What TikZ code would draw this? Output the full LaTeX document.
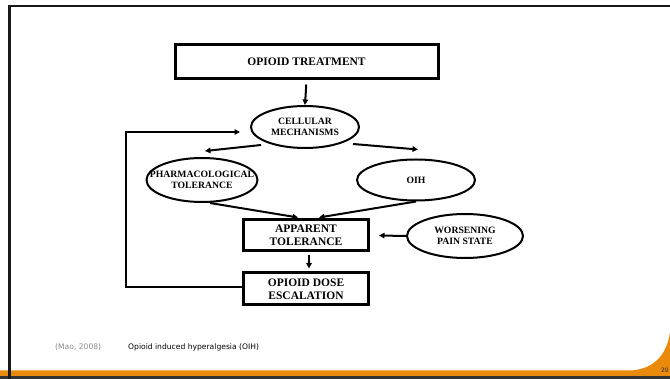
\documentclass[tikz,border=0pt]{standalone}
\usepackage{fontspec}
\setmainfont{Liberation Serif}
\newfontfamily\footfont{DejaVu Sans}
\usetikzlibrary{arrows.meta,shapes.geometric,calc}
\definecolor{slideorange}{HTML}{E98A0C}
\definecolor{darkline}{HTML}{333333}
\begin{document}
\begin{tikzpicture}[x=1pt,y=-1pt,
  boxnode/.style={draw,line width=3pt,rectangle,inner sep=0pt,align=center,font=\fontsize{11.5}{13.3}\selectfont\bfseries},
  ellnode/.style={draw,line width=2pt,ellipse,inner sep=0pt,align=center,font=\fontsize{9.7}{11.2}\selectfont\bfseries},
  arr/.style={line width=2pt,-{Triangle[length=5.5pt,width=5.5pt]}},
  foot/.style={font=\footfont\fontsize{7.6}{8}\selectfont,anchor=west,inner sep=0pt}]
\useasboundingbox (0,0) rectangle (670,379);
\fill[white] (0,0) rectangle (670,379);
% slide frame
\fill[slideorange] (0,370.5) -- (628,370.5) .. controls (652,370.5) and (667,356) .. (670,332) -- (670,377) -- (0,377) -- cycle;
\fill[darkline] (0,376.5) rectangle (670,379);
\draw[line width=2.5pt,black!90] (9.6,379) -- (9.6,6.2) -- (670,6.2);
% nodes
\node[boxnode,minimum width=263pt,minimum height=34pt] (top) at (306.5,62) {OPIOID TREATMENT};
\node[ellnode,minimum width=108pt,minimum height=42pt] (cell) at (305,127) {CELLULAR\\MECHANISMS};
\node[ellnode,minimum width=111pt,minimum height=44pt] (pharm) at (202,180) {\makebox[60pt][c]{PHARMACOLOGICAL}\\TOLERANCE};
\node[ellnode,minimum width=118pt,minimum height=41pt] (oih) at (416,180) {OIH};
\node[boxnode,minimum width=125pt,minimum height=31pt] (app) at (306,235.5) {APPARENT\\TOLERANCE};
\node[ellnode,minimum width=116pt,minimum height=44pt] (worse) at (465,236) {WORSENING\\PAIN STATE};
\node[boxnode,minimum width=125pt,minimum height=32pt] (dose) at (306,289) {OPIOID DOSE\\ESCALATION};
% connectors
\draw[arr,shorten <=4pt] (top.south) -- (cell.north);
\draw[arr] ($(cell.center)+(-44,18)$) -- ($(pharm.north)+(3,-6)$);
\draw[arr] ($(cell.center)+(48,17)$) -- ($(oih.north)+(2,-9)$);
\draw[arr] ($(pharm.south)+(8,0)$) -- ($(app.north)+(-8,-1)$);
\draw[arr] (oih.south) -- ($(app.north)+(13,-1)$);
\draw[arr] (worse.west) -- ([xshift=9pt]app.east);
\draw[arr,shorten <=3pt,shorten >=3pt] ([xshift=3pt]app.south) -- ([xshift=3pt]dose.north);
\draw[arr] ([yshift=2pt]dose.west) -- ++(-116,0) |- ($(cell.west)+(-10,5)$);
% footer
\node[foot,text=black!45] (ref) at (55,347) {(Mao, 2008)};
\node[foot] (cap) at (128,347) {Opioid induced hyperalgesia (OIH)};
\node[font=\footfont\fontsize{6}{6}\selectfont,anchor=east,inner sep=0pt,text=black!85] (num) at (669,370) {20};
\end{tikzpicture}
\end{document}
